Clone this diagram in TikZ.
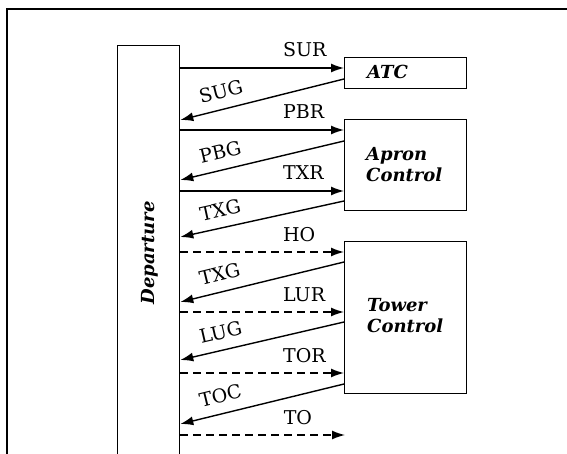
\documentclass[tikz,border=0pt]{standalone}
\usepackage{fontspec}
\setmainfont{DejaVu Serif}
\usetikzlibrary{arrows.meta,calc}
\begin{document}
\begin{tikzpicture}[x=1pt,y=-1pt,
  box/.style={draw, line width=1.3pt, inner sep=0pt, anchor=north west},
  msg/.style={line width=1.4pt, -{Latex[length=13pt,width=9pt]}},
  dmsg/.style={msg, dash pattern=on 8pt off 5pt},
  lbl/.style={font=\fontsize{19}{22}\selectfont, inner sep=0pt},
  hlbl/.style={lbl, pos=0.624, anchor=base west, yshift=11pt},
  slbl/.style={lbl, pos=0.86, sloped, anchor=base west, yshift=11pt},
  ttl/.style={font=\fontsize{18}{21}\selectfont\bfseries\itshape, inner sep=0pt, align=left},
]
\useasboundingbox (0,0) rectangle (567,454);
\draw[line width=1.8pt] (567,9) -- (7,9) -- (7,470);
\node[box, minimum width=62pt, minimum height=430pt] (dep) at (117,45) {};
\node[ttl, rotate=90] (deptxt) at (150,253) {Departure};
\node[box, minimum width=122pt, minimum height=31pt] (atc) at (344,57) {};
\node[box, minimum width=122pt, minimum height=91pt] (apron) at (344,119) {};
\node[box, minimum width=122pt, minimum height=152pt] (tower) at (344,241) {};
\node[ttl, anchor=north west] (atctxt) at (367,65) {ATC};
\node[ttl, anchor=north west] (aprontxt) at (366,147) {Apron\\Control};
\node[ttl, anchor=north west] (towertxt) at (367,298) {Tower\\Control};
\coordinate (toend) at (345,435);
% requests and grants
\draw[msg] ($(dep.north east)+(0,23)$) -- ($(atc.north west)+(0,11)$) node[hlbl] {SUR};
\draw[msg] ($(atc.north west)+(0,22)$) -- ($(dep.north east)+(0,75)$) node[slbl] {SUG};
\draw[msg] ($(dep.north east)+(0,85)$) -- ($(apron.north west)+(0,11)$) node[hlbl] {PBR};
\draw[msg] ($(apron.north west)+(0,22)$) -- ($(dep.north east)+(0,135)$) node[slbl] {PBG};
\draw[msg] ($(dep.north east)+(0,146)$) -- ($(apron.north west)+(0,72)$) node[hlbl] {TXR};
\draw[msg] ($(apron.north west)+(0,82)$) -- ($(dep.north east)+(0,192)$) node[slbl] {TXG};
\draw[dmsg] ($(dep.north east)+(0,207)$) -- ($(tower.north west)+(0,11)$) node[hlbl] {HO};
\draw[msg] ($(tower.north west)+(0,21)$) -- ($(dep.north east)+(0,257)$) node[slbl] {TXG};
\draw[dmsg] ($(dep.north east)+(0,267)$) -- ($(tower.north west)+(0,71)$) node[hlbl] {LUR};
\draw[msg] ($(tower.north west)+(0,81)$) -- ($(dep.north east)+(0,315)$) node[slbl] {LUG};
\draw[dmsg] ($(dep.north east)+(0,328)$) -- ($(tower.north west)+(0,132)$) node[hlbl] {TOR};
\draw[msg] ($(tower.north west)+(0,143)$) -- ($(dep.north east)+(0,379)$) node[slbl] {TOC};
\draw[dmsg] ($(dep.north east)+(0,390)$) -- (toend) node[hlbl] {TO};
\end{tikzpicture}
\end{document}
